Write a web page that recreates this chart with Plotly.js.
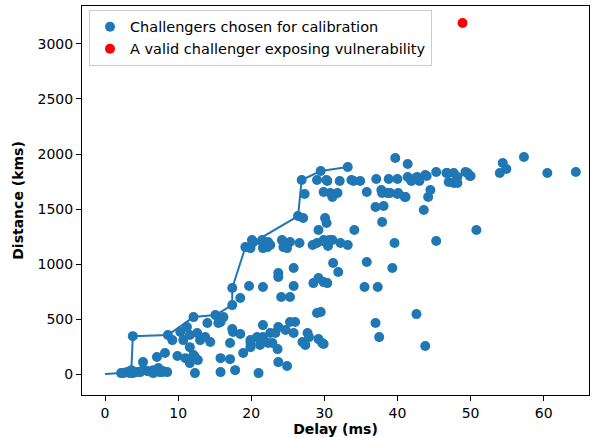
<!DOCTYPE html>
<html>
<head>
<meta charset="utf-8">
<script src="https://cdn.plot.ly/plotly-3.0.1.min.js"></script>
<style>html,body{margin:0;padding:0;background:#fff}#chart{width:600px;height:437px}</style>
</head>
<body>
<div id="chart"></div>
<script>
// Calibration challengers: delay (ms) and distance (kms)
const delayMs = [
  2.2, 2.5, 3.0, 3.4, 3.6, 3.8, 4.4, 4.8, 5.2, 5.8, 6.4, 6.6, 7.5, 7.8, 8.5, 5.2, 7.1, 8.2, 9.9, 6.6, 11.6, 12.3, 12.3, 11.0, 7.3, 7.9,
  3.8, 8.6, 9.2, 10.3, 10.7, 11.6, 12.1, 12.6, 13.0, 13.7, 14.4, 15.1, 15.5, 14.0, 11.6, 12.1, 12.7, 15.8, 17.1, 15.8, 17.8, 17.1,
  17.4, 17.5, 11.2, 18.9, 21.0, 19.9, 21.2, 22.3, 23.7, 23.3,
  17.4, 18.5, 24.1, 25.3, 29.0, 16.2, 15.8, 17.4, 18.5, 19.9, 20.8, 21.6, 21.6, 22.6, 21.5, 22.9, 23.6, 19.9, 23.7, 24.7, 25.3, 26.0,
  25.8, 27.0, 27.7, 27.9, 27.4, 29.2, 29.9, 24.9,
  26.9, 29.0, 27.3, 26.4, 27.1, 29.2, 19.2, 20.3, 21.5, 22.2, 24.4, 25.3, 24.4, 26.6, 28.4, 29.0, 19.9, 21.6, 22.6, 23.7, 23.7, 25.8,
  19.7, 21.6, 25.8, 28.5, 29.2,
  33.2, 33.7, 30.4, 32.1, 29.9, 30.8, 31.8, 31.1, 30.1, 30.3, 34.1, 20.1, 21.5, 22.3, 24.2, 30.1, 31.1, 32.2, 33.2, 24.9, 30.5,
  39.7, 41.4, 29.5, 30.3, 34.0, 34.9, 37.1, 38.8, 40.0, 41.4, 42.7, 44.0, 45.3, 46.8, 47.7, 47.7, 48.2, 35.8, 37.8, 38.6, 40.0, 41.1,
  44.5, 44.2, 37.0, 38.1, 43.6, 37.9, 29.9, 30.7, 39.6, 45.3, 31.2, 35.8, 39.3,
  57.3, 54.4, 54.0, 54.9, 60.5, 42.5, 43.8, 46.7, 47.0, 48.2, 49.6, 49.9, 41.9, 43.0, 37.9, 39.0, 40.1, 41.0, 50.8, 64.4, 49.3, 50.0,
  31.9, 35.5, 37.3, 42.6, 37.0, 37.5, 43.8, 29.9, 30.4, 29.5, 29.7
];
const distanceKms = [
  9, 9, 18, 9, 36, 9, 18, 18, 36, 27, 18, 36, 18, 18, 18, 109, 155, 191, 164, 9, 100, 155, 9, 145, 55, 27,
  345, 355, 309, 382, 309, 355, 518, 373, 309, 336, 291, 536, 464, 464, 245, 173, 127, 145, 136, 18, 36, 282,
  627, 382, 427, 191, 9, 282, 264, 282, 109, 373,
  782, 691, 700, 700, 555, 518, 473, 409, 364, 309, 336, 445, 336, 373, 291, 282, 227, 245, 427, 400, 473, 473,
  373, 291, 373, 336, 264, 318, 273, 73,
  1764, 1764, 1636, 1436, 1418, 1309, 1154, 1200, 1200, 1154, 1200, 1200, 1154, 1191, 1173, 1191, 1145, 1145, 1173, 918, 882, 964,
  800, 791, 800, 827, 873,
  1882, 1764, 1754, 1754, 1654, 1645, 1645, 1609, 1418, 1373, 1309, 1218, 1218, 1200, 1218, 1200, 1218, 1191, 1173, 1145, 1164,
  1964, 1909, 1845, 1764, 1754, 1754, 1773, 1773, 1773, 1791, 1791, 1800, 1836, 1827, 1827, 1736, 1791, 1654, 1673, 1645, 1636, 1609,
  1673, 1609, 1518, 1527, 1491, 1382, 1218, 1218, 1191, 1209, 1009, 1018, 964,
  1973, 1918, 1827, 1864, 1827, 1782, 1809, 1827, 1745, 1736, 1827, 1800, 1754, 1754, 1645, 1645, 1645, 1609, 1309, 1836, 1836, 1800,
  927, 791, 791, 545, 464, 336, 255, 836, 827, 564, 282
];
// Lower-envelope line
const envDelay = [0, 2.2, 3.6, 3.8, 8.6, 12.1, 15.1, 17.4, 17.4, 19.2, 26.4, 26.9, 29.5, 33.2];
const envDist  = [0, 9, 36, 345, 355, 518, 536, 627, 782, 1154, 1436, 1764, 1845, 1882];
// Vulnerability
const vulnDelay = [48.9];
const vulnDist = [3190];

const blue = '#1f77b4';
const font = {family: 'DejaVu Sans, sans-serif', size: 14, color: '#000'};
const legendFont = {family: 'DejaVu Sans, sans-serif', size: 14.5, color: '#000'};

const traces = [
  {x: envDelay, y: envDist, mode: 'lines', line: {color: blue, width: 2}, showlegend: false, hoverinfo: 'skip'},
  {x: delayMs, y: distanceKms, mode: 'markers', name: 'Challengers chosen for calibration',
   marker: {color: blue, size: 10}},
  {x: vulnDelay, y: vulnDist, mode: 'markers', name: 'A valid challenger exposing vulnerability',
   marker: {color: '#ff0000', size: 10}}
];

const axisCommon = {
  showgrid: false, zeroline: false, showline: true, linecolor: '#000', linewidth: 1, mirror: true,
  ticks: 'outside', ticklen: 5, tickwidth: 1, tickcolor: '#000', tickfont: font
};

const layout = {
  width: 600, height: 437,
  margin: {l: 82, r: 11, t: 6, b: 42},
  paper_bgcolor: '#fff', plot_bgcolor: '#fff',
  font: font,
  xaxis: Object.assign({}, axisCommon, {
    range: [-3.15, 66.2], tickvals: [0, 10, 20, 30, 40, 50, 60],
    title: {text: '<b>Delay (ms)</b>', font: font, standoff: 5}
  }),
  yaxis: Object.assign({}, axisCommon, {
    range: [-190, 3345], tickvals: [0, 500, 1000, 1500, 2000, 2500, 3000],
    title: {text: '<b>Distance (kms)</b>', font: font, standoff: 10}
  }),
  legend: {
    x: 0.0138, y: 0.99, xanchor: 'left', yanchor: 'top',
    bgcolor: 'rgba(255,255,255,0.8)', bordercolor: '#cccccc', borderwidth: 1,
    font: legendFont, itemwidth: 30, tracegroupgap: 0
  },
  showlegend: true
};

Plotly.newPlot('chart', traces, layout, {displayModeBar: false, staticPlot: true});
</script>
</body>
</html>
